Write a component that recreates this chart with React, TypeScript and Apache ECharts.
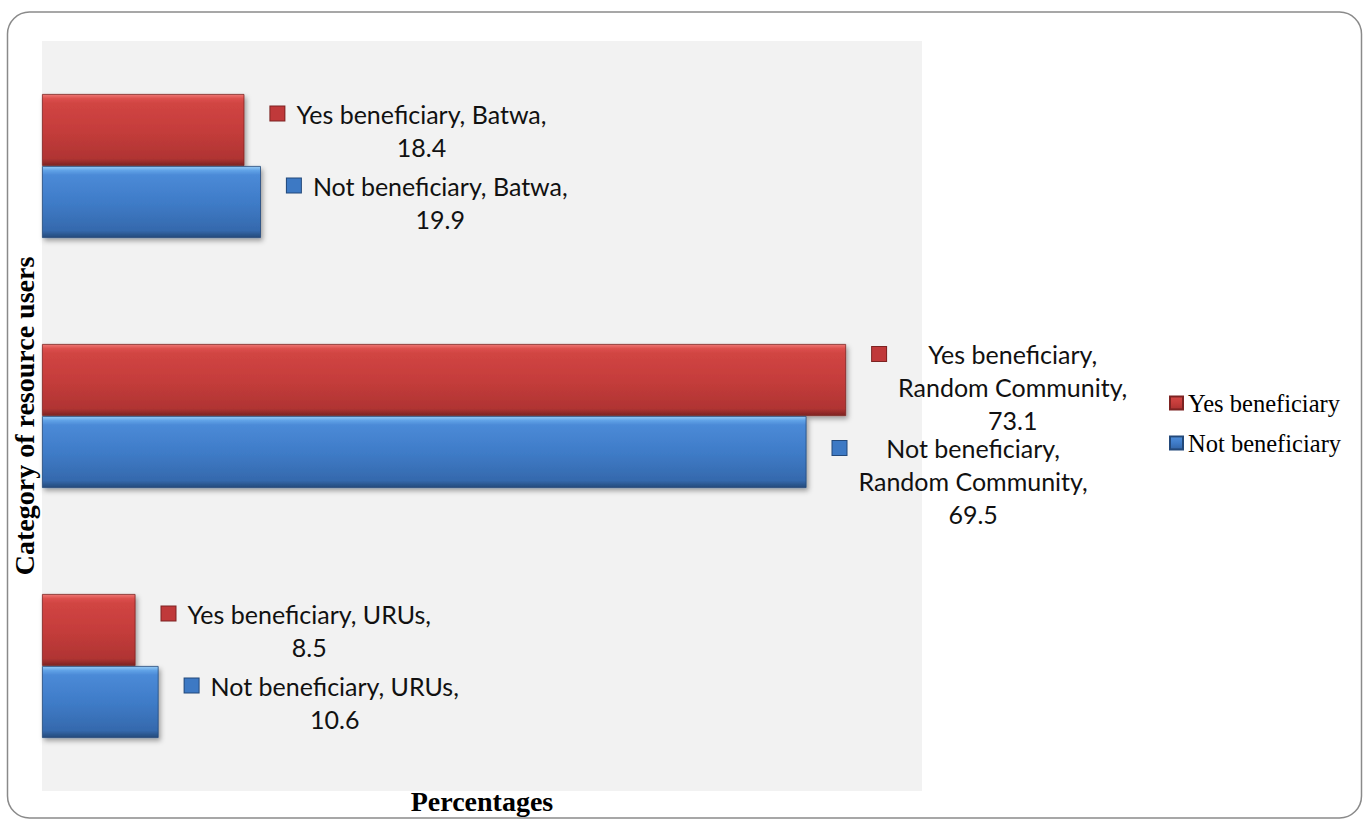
import React, { useEffect, useRef } from "react";
import * as echarts from "echarts";

// ---- data ----
const categories = ["Batwa", "Random Community", "URUs"];
const seriesNames = ["Yes beneficiary", "Not beneficiary"];
const yesValues = [18.4, 73.1, 8.5];
const notValues = [19.9, 69.5, 10.6];
const xMin = 0;
const xMax = 80;
const xTitle = "Percentages";
const yTitle = "Category of resource users";

// ---- styles ----
const labelFont = "Lato, 'Open Sans', sans-serif";
const serif = "'Liberation Serif', 'Times New Roman', serif";
const labelShift: Record<string, [number, number]> = {
  "Random Community": [7, 29],
};

const redGrad = () =>
  new echarts.graphic.LinearGradient(0, 0, 0, 1, [
    { offset: 0, color: "#ee7875" },
    { offset: 0.06, color: "#dc4f4c" },
    { offset: 0.12, color: "#d14543" },
    { offset: 0.5, color: "#c53d3b" },
    { offset: 0.9, color: "#b03433" },
    { offset: 0.95, color: "#982c2b" },
    { offset: 1, color: "#7d2322" },
  ]);
const blueGrad = () =>
  new echarts.graphic.LinearGradient(0, 0, 0, 1, [
    { offset: 0, color: "#96cbf4" },
    { offset: 0.06, color: "#5fa1e6" },
    { offset: 0.12, color: "#4b8ad7" },
    { offset: 0.5, color: "#3f7cc8" },
    { offset: 0.9, color: "#3569ad" },
    { offset: 0.95, color: "#2d5a93" },
    { offset: 1, color: "#23497a" },
  ]);

function labelText(name: string, category: string, value: number) {
  const v = value.toFixed(1);
  const lines =
    category.length > 12
      ? [name + ",", category + ",", v]
      : [name + ", " + category + ",", v];
  return lines
    .map((l, i) => (i === 0 ? "{m|}{g|}" : "{sp|}") + "{t|" + l + "}")
    .join("\n");
}

function makeSeries(name: string, values: number[], grad: any, marker: string, markerBorder: string, idx: number) {
  return {
    name,
    type: "bar",
    barWidth: 72,
    barGap: "0%",
    itemStyle: {
      color: grad,
      borderColor: markerBorder,
      borderWidth: 0.8,
      shadowColor: "rgba(0,0,0,0.35)",
      shadowBlur: 5,
      shadowOffsetX: 2,
      shadowOffsetY: 3,
    },
    data: values.map((v, i) => {
      const sh = labelShift[categories[i]];
      return sh ? { value: v, label: { offset: [0, sh[idx]] } } : { value: v };
    }),
    label: {
      show: true,
      position: "right",
      distance: 26,
      fontFamily: labelFont,
      fontSize: 25,
      lineHeight: 33,
      color: "#111",
      formatter: (p: any) => labelText(p.seriesName, p.name, p.value),
      rich: {
        m: {
          width: 14,
          height: 14,
          backgroundColor: marker,
          borderColor: markerBorder,
          borderWidth: 1,
          align: "left",
        },
        g: { width: 12, align: "left" },
        sp: { width: 26, align: "left" },
        t: {
          align: "center",
          fontFamily: labelFont,
          fontSize: 25,
          lineHeight: 33,
          color: "#111",
        },
      },
    },
  };
}

export default function App() {
  const ref = useRef<HTMLDivElement>(null);
  useEffect(() => {
    if (!ref.current) return;
    const chart = echarts.init(ref.current, null, { renderer: "svg" });
    chart.setOption({
      animation: false,
      backgroundColor: "#ffffff",
      graphic: [
        {
          type: "rect",
          shape: { x: 7.5, y: 12, width: 1354, height: 806, r: 22 },
          style: { fill: "none", stroke: "#8a8a8a", lineWidth: 1.5 },
          z: 100,
        },
      ],
      legend: {
        orient: "vertical",
        left: 1164,
        top: 385,
        itemWidth: 13,
        itemHeight: 13,
        itemGap: 14,
        icon: "rect",
        data: seriesNames,
        textStyle: {
          fontFamily: serif,
          fontSize: 24.5,
          lineHeight: 26,
          color: "#000",
        },
      },
      grid: {
        left: 42,
        top: 41,
        width: 880,
        height: 755,
        show: true,
        backgroundColor: "#f2f2f2",
        borderWidth: 0,
      },
      xAxis: {
        type: "value",
        min: xMin,
        max: xMax,
        name: xTitle,
        nameLocation: "middle",
        nameGap: -4,
        nameTextStyle: {
          fontFamily: serif,
          fontSize: 28,
          fontWeight: "bold",
          color: "#000",
          verticalAlign: "top",
        },
        axisLine: { show: false },
        axisTick: { show: false },
        axisLabel: { show: false },
        splitLine: { show: false },
      },
      yAxis: {
        type: "category",
        inverse: true,
        data: categories,
        name: yTitle,
        nameLocation: "middle",
        nameGap: 4,
        nameRotate: 90,
        nameTextStyle: {
          fontFamily: serif,
          fontSize: 28,
          fontWeight: "bold",
          color: "#000",
        },
        axisLine: { show: false },
        axisTick: { show: false },
        axisLabel: { show: false },
        splitLine: { show: false },
      },
      series: [
        makeSeries(seriesNames[0], yesValues, redGrad(), "#c0393a", "#7d2322", 0),
        makeSeries(seriesNames[1], notValues, blueGrad(), "#3d79c4", "#23497a", 1),
      ],
    });
    return () => chart.dispose();
  }, []);
  return (
    <div
      ref={ref}
      style={{ position: "fixed", left: 0, top: 0, width: 1364, height: 820, background: "#fff" }}
    />
  );
}
